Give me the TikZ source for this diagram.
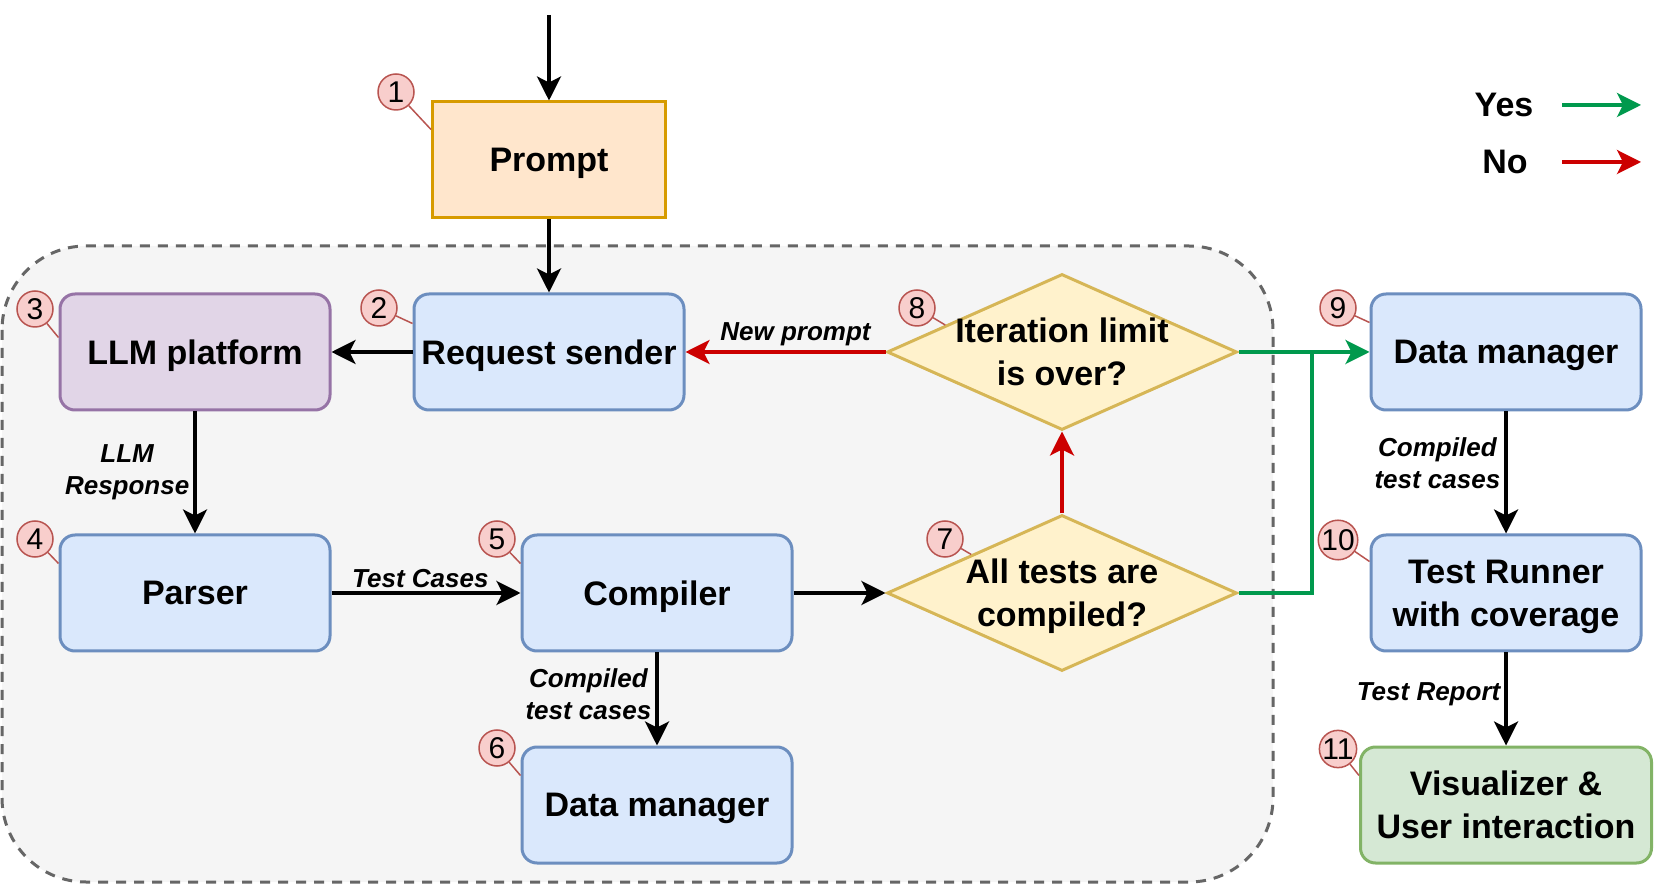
\documentclass[tikz,border=0pt]{standalone}
\usepackage{fontspec}
\setmainfont{Liberation Sans}
\usetikzlibrary{arrows.meta,shapes.geometric}

\definecolor{bluefill}{HTML}{DAE8FC}
\definecolor{blueline}{HTML}{6C8EBF}
\definecolor{orangefill}{HTML}{FFE6CC}
\definecolor{orangeline}{HTML}{D79B00}
\definecolor{purplefill}{HTML}{E1D5E7}
\definecolor{purpleline}{HTML}{9673A6}
\definecolor{yelfill}{HTML}{FFF2CC}
\definecolor{yelline}{HTML}{D6B656}
\definecolor{greenfill}{HTML}{D5E8D4}
\definecolor{greenline}{HTML}{82B366}
\definecolor{numfill}{HTML}{F8CECC}
\definecolor{numline}{HTML}{B85450}
\definecolor{contfill}{HTML}{F5F5F5}
\definecolor{contline}{HTML}{666666}
\definecolor{yesgreen}{HTML}{00994D}
\definecolor{nored}{HTML}{CC0000}

\newcommand\boxfont{\fontsize{17}{21.5}\selectfont\bfseries}
\newcommand\edgefont{\fontsize{13}{16}\selectfont\bfseries\itshape}
\newcommand\callfont{\fontsize{15}{15}\selectfont}

\tikzset{
  box/.style={draw, rounded corners=7.5pt, minimum width=135pt, minimum height=58pt,
    line width=1.5pt, font=\boxfont, align=center, inner sep=2pt, text depth=0pt},
  bluebox/.style={box, draw=blueline, fill=bluefill},
  decision/.style={diamond, draw=yelline, fill=yelfill, line width=1.5pt,
    minimum width=175pt, minimum height=78pt, inner sep=0pt},
  dtext/.style={font=\boxfont, align=center, text depth=0pt},
  numc/.style={circle, draw=numline, fill=numfill, line width=0.75pt,
    minimum size=18pt, inner sep=0pt, font=\callfont},
  callout/.style={draw=numline, line width=0.75pt},
  flow/.style={-{Stealth[length=12pt,width=12pt,inset=3pt]}, line width=1.7pt},
  yesline/.style={line width=1.7pt, draw=yesgreen},
  yesflow/.style={flow, draw=yesgreen},
  noflow/.style={flow, draw=nored},
  elabel/.style={font=\edgefont, align=center, inner sep=2pt},
  container/.style={draw=contline, fill=contfill, dash pattern=on 5pt off 4pt,
    line width=1.5pt, rounded corners=42pt}
}

\begin{document}
\begin{tikzpicture}[x=0.5pt,y=-0.5pt]
  \useasboundingbox (0,0) rectangle (1660,892);

  % Loop area
  \draw[container] (2,246) rectangle (1273,882);

  % Boxes
  \node[box, rounded corners=0pt, draw=orangeline, fill=orangefill, minimum width=116.5pt] (prompt) at (549,160) {Prompt};
  \node[bluebox] (sender) at (549,352) {Request sender};
  \node[box, draw=purpleline, fill=purplefill] (llm) at (195,352) {LLM platform};
  \node[bluebox] (parser) at (195,593) {Parser};
  \node[bluebox] (compiler) at (657,593) {Compiler};
  \node[bluebox] (dm6) at (657,805) {Data manager};
  \node[decision, label={[dtext]center:Iteration limit\\is over?}] (iter) at (1062,352) {};
  \node[decision, label={[dtext]center:All tests are\\compiled?}] (tests) at (1062,593) {};
  \node[bluebox] (dm9) at (1506,352) {Data manager};
  \node[bluebox] (runner) at (1506,593) {Test Runner\\with coverage};
  \node[box, draw=greenline, fill=greenfill, minimum width=145.5pt] (vis) at (1506,805) {Visualizer \&\\User interaction};

  % Connectors
  \coordinate (entry) at (549,15);
  \draw[flow] (entry) -- (prompt);
  \draw[flow] (prompt) -- (sender);
  \draw[flow] (sender) -- (llm);
  \draw[flow] (llm) -- node[elabel, left] {LLM\\Response} (parser);
  \draw[flow] (parser) -- node[elabel, above, pos=0.47] {Test Cases} (compiler);
  \draw[flow] (compiler) -- node[elabel, left, pos=0.45] {Compiled\\test cases} (dm6);
  \draw[flow] (compiler) -- (tests);
  \draw[noflow] (tests) -- (iter);
  \draw[noflow] (iter) -- node[elabel, above, pos=0.45] {New prompt} (sender);
  \draw[yesflow] (iter) -- (dm9);
  \coordinate (merge) at (1312,352);
  \draw[yesline] (tests.east) -| (merge);
  \draw[flow] (dm9) -- node[elabel, left, pos=0.42] {Compiled\\test cases} (runner);
  \draw[flow] (runner) -- node[elabel, left, pos=0.45] {Test Report} (vis);

  % Step numbers
  \node[numc] (n1) at (396,92) {1};
  \node[numc] (n2) at (379,308) {2};
  \node[numc] (n3) at (35,309) {3};
  \node[numc] (n4) at (35,539) {4};
  \node[numc] (n5) at (497,539) {5};
  \node[numc] (n6) at (497,748) {6};
  \node[numc] (n7) at (945,539) {7};
  \node[numc] (n8) at (917,308) {8};
  \node[numc] (n9) at (1338,308) {9};
  \node[numc] (n10) at (1338,540) {10};
  \node[numc] (n11) at (1338,749) {11};
  \draw[callout] (n1) -- ([yshift=-14.5pt]prompt.north west);
  \draw[callout] (n2) -- ([yshift=-15.5pt]sender.north west);
  \draw[callout] (n3) -- ([yshift=-22.5pt]llm.north west);
  \draw[callout] (n4) -- ([yshift=-15pt]parser.north west);
  \draw[callout] (n5) -- ([yshift=-15pt]compiler.north west);
  \draw[callout] (n6) -- ([yshift=-15pt]dm6.north west);
  \draw[callout] (n7) -- (tests.157);
  \draw[callout] (n8) -- (iter.167);
  \draw[callout] (n9) -- ([yshift=-15pt]dm9.north west);
  \draw[callout] (n10) -- ([yshift=-14pt]runner.north west);
  \draw[callout] (n11) -- ([yshift=-15pt]vis.north west);

  % Legend
  \node[font=\boxfont] (yes) at (1504,105) {Yes};
  \node[font=\boxfont] (no) at (1505,162) {No};
  \coordinate (yesstart) at (1562,105);
  \coordinate (yesend) at (1641,105);
  \coordinate (nostart) at (1562,162);
  \coordinate (noend) at (1641,162);
  \draw[yesflow] (yesstart) -- (yesend);
  \draw[noflow] (nostart) -- (noend);
\end{tikzpicture}
\end{document}
